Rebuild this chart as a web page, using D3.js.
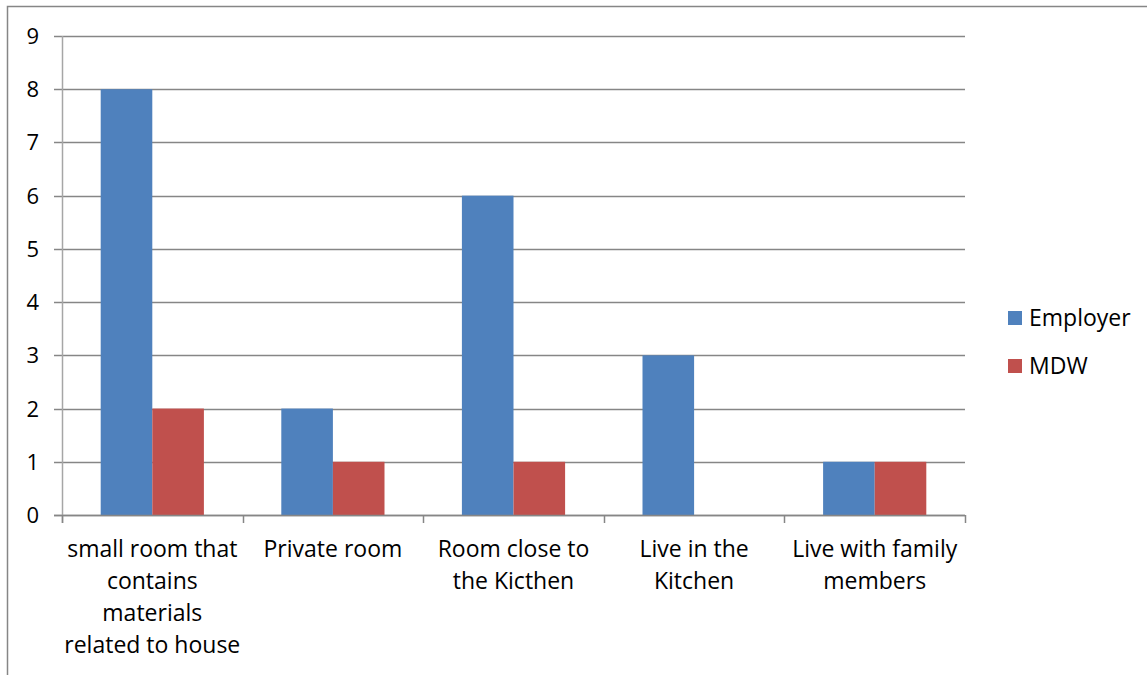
<!DOCTYPE html>
<html><head><meta charset="utf-8">
<script src="https://cdn.jsdelivr.net/npm/d3@7"></script>
<style>body{margin:0;background:#fff}svg{display:block}text{font-family:"Open Sans",sans-serif;fill:#000}</style>
</head><body><div id="c"></div>
<script>
const categories = [
  ["small room that","contains","materials","related to house"],
  ["Private room"],
  ["Room close to","the Kicthen"],
  ["Live in the","Kitchen"],
  ["Live with family","members"]
];
const seriesNames = ["Employer","MDW"];
const employer = [8,2,6,3,1];
const mdw = [2,1,1,0,1];
const yTicks = [0,1,2,3,4,5,6,7,8,9];
const colors = ["#4F81BD","#C0504D"];

const W=1147,H=675;
const svg=d3.select("#c").append("svg").attr("width",W).attr("height",H);
svg.append("rect").attr("x",7.5).attr("y",6.5).attr("width",W).attr("height",H).attr("fill","#fff").attr("stroke","#868686").attr("stroke-width",1.5);

const L=62,R=965,T=36,B=515;
const x=d3.scaleBand().domain(d3.range(categories.length)).range([L,R]).paddingInner(0).paddingOuter(0);
const y=d3.scaleLinear().domain([0,9]).range([B,T]);
const xs=d3.scaleBand().domain([0,1]).range([0,x.bandwidth()]).paddingInner(0).paddingOuter(0.75);

svg.append("g").selectAll("line").data(yTicks).join("line")
  .attr("x1",L-8).attr("x2",R).attr("y1",d=>Math.round(y(d))+0.5).attr("y2",d=>Math.round(y(d))+0.5)
  .attr("stroke","#868686").attr("stroke-width",1.5);
svg.append("line").attr("x1",L+0.5).attr("x2",L+0.5).attr("y1",T).attr("y2",B+8).attr("stroke","#A6A6A6").attr("stroke-width",1.5);
svg.append("g").selectAll("line").data(d3.range(categories.length+1)).join("line")
  .attr("x1",d=>Math.round(L+d*x.step())+0.5).attr("x2",d=>Math.round(L+d*x.step())+0.5)
  .attr("y1",B).attr("y2",B+8).attr("stroke","#868686").attr("stroke-width",1.5);

const data=[employer,mdw];
data.forEach((arr,si)=>{
  svg.append("g").selectAll("rect").data(arr).join("rect")
    .attr("x",(d,i)=>x(i)+xs(si)).attr("width",xs.bandwidth())
    .attr("y",d=>y(d)).attr("height",d=>B-y(d)).attr("fill",colors[si]);
});
svg.append("line").attr("x1",L-8).attr("x2",R).attr("y1",B+0.5).attr("y2",B+0.5).attr("stroke","#868686").attr("stroke-width",1.5);

svg.append("g").selectAll("text").data(yTicks).join("text")
  .attr("x",39).attr("y",d=>y(d)+8).attr("text-anchor","end").attr("font-size",22).text(d=>d);

const xl=svg.append("g").selectAll("text").data(categories).join("text")
  .attr("text-anchor","middle").attr("font-size",23);
xl.each(function(lines,i){
  d3.select(this).selectAll("tspan").data(lines).join("tspan")
    .attr("x",x(i)+x.bandwidth()/2).attr("y",(d,j)=>557+j*32).text(d=>d);
});

const lg=svg.append("g");
seriesNames.forEach((n,i)=>{
  lg.append("rect").attr("x",1008).attr("y",311+i*48).attr("width",14).attr("height",14).attr("fill",colors[i]);
  lg.append("text").attr("x",1029).attr("y",326+i*48).attr("font-size",23).text(n);
});
</script></body></html>
